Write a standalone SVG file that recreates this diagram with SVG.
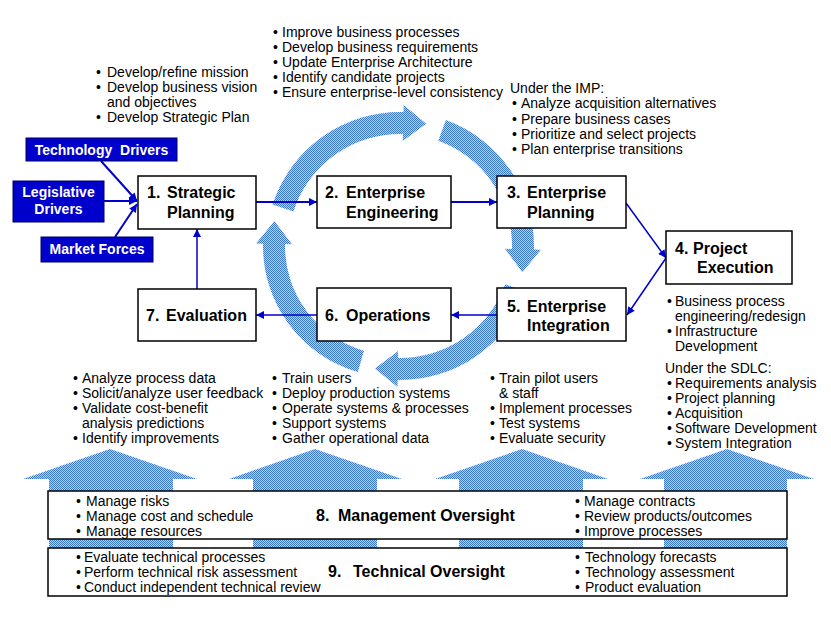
<svg xmlns="http://www.w3.org/2000/svg" width="831" height="618" viewBox="0 0 831 618">
<defs>
<pattern id="dither" width="2" height="2" patternUnits="userSpaceOnUse"><rect width="2" height="2" fill="#b3cfec"/><rect width="1" height="1" fill="#3c7ac4"/><rect x="1" y="1" width="1" height="1" fill="#3c7ac4"/></pattern>
<marker id="ah" viewBox="0 0 10 10" refX="10" refY="5" markerWidth="10" markerHeight="8" markerUnits="userSpaceOnUse" orient="auto"><path d="M0,0 L10,5 L0,10 z" fill="#0000CC"/></marker>
<style>
.box{fill:#fff;stroke:#000;stroke-width:1.5}
.drv{fill:#0000CC;stroke:#000060;stroke-width:1}
.lbl{font-family:"Liberation Sans",Arial,sans-serif;font-weight:bold;font-size:16px;fill:#000}
.dl{font-family:"Liberation Sans",Arial,sans-serif;font-weight:bold;font-size:14px;fill:#fff}
.t{font-family:"Liberation Sans",Arial,sans-serif;font-size:14px;fill:#000}
.ring{fill:url(#dither)}
.con{stroke:#0000CC;stroke-width:2;fill:none;marker-end:url(#ah)}
.con2{stroke:#0000CC;stroke-width:1.5;fill:none;marker-end:url(#ah)}
</style>
</defs>
<rect width="831" height="618" fill="#fff"/>

<g id="cycle-arrows">
<path class="ring" d="M272.55,204.59 A134,134 0 0 1 403.51,112.05 L403.69,105.05 L426.21,123.64 L402.75,141.04 L402.93,134.04 A112,112 0 0 0 293.48,211.39 Z"/>
<path class="ring" d="M445.83,120.08 A134,134 0 0 1 533.95,249.51 L540.95,249.69 L522.36,272.21 L504.96,248.75 L511.96,248.93 A112,112 0 0 0 438.30,140.75 Z"/>
<path class="ring" d="M525.92,291.83 A134,134 0 0 1 397.66,379.98 L397.54,386.98 L374.85,368.58 L398.17,350.98 L398.05,357.98 A112,112 0 0 0 505.25,284.30 Z"/>
<path class="ring" d="M357.89,371.93 A131,131 0 0 1 263.02,243.71 L256.02,243.59 L274.42,220.91 L292.02,244.22 L285.02,244.10 A109,109 0 0 0 363.96,350.78 Z"/>
</g>

<g id="oversight-arrows">
<path class="ring" d="M49,570 V479 H23 L110,449 L197,479 H173 V570 Z"/>
<path class="ring" d="M253,570 V479 H229 L315,449 L402,479 H377 V570 Z"/>
<path class="ring" d="M459,570 V479 H435 L522,449 L608,479 H583 V570 Z"/>
<path class="ring" d="M664,570 V479 H640 L727,449 L814,479 H787 V570 Z"/>
</g>

<g id="connectors">
<line class="con" x1="101" y1="161" x2="137" y2="201"/>
<line class="con" x1="104" y1="201" x2="137" y2="201"/>
<line class="con" x1="115" y1="237" x2="137" y2="204"/>
<line class="con" x1="256" y1="202" x2="317" y2="202"/>
<line class="con" x1="451" y1="202" x2="497" y2="202"/>
<line class="con2" x1="626" y1="203" x2="666" y2="258"/>
<line class="con2" x1="666" y1="258" x2="627" y2="315"/>
<line class="con2" x1="497" y1="315" x2="451" y2="315"/>
<line class="con2" x1="317" y1="315" x2="256" y2="315"/>
<line class="con2" x1="197" y1="289" x2="197" y2="229"/>
</g>

<g id="tech-drivers">
<rect class="drv" x="26" y="138" width="151" height="23"/>
<text class="dl" x="101.5" y="155" text-anchor="middle" xml:space="preserve">Technology  Drivers</text>
</g>
<g id="legislative-drivers">
<rect class="drv" x="13" y="181" width="91" height="41"/>
<text class="dl" x="58.5" y="197" text-anchor="middle">Legislative</text>
<text class="dl" x="58.5" y="214" text-anchor="middle">Drivers</text>
</g>
<g id="market-forces">
<rect class="drv" x="41" y="237" width="112" height="25"/>
<text class="dl" x="97" y="254" text-anchor="middle">Market Forces</text>
</g>

<g id="box1">
<rect class="box" x="138" y="176" width="118" height="53"/>
<text class="lbl" y="198"><tspan x="147">1.</tspan><tspan x="167">Strategic</tspan></text>
<text class="lbl" x="167" y="218">Planning</text>
</g>
<g id="box2">
<rect class="box" x="317" y="176" width="134" height="52"/>
<text class="lbl" y="198"><tspan x="325">2.</tspan><tspan x="346">Enterprise</tspan></text>
<text class="lbl" x="346" y="218">Engineering</text>
</g>
<g id="box3">
<rect class="box" x="497" y="176" width="129" height="52"/>
<text class="lbl" y="198"><tspan x="507">3.</tspan><tspan x="527">Enterprise</tspan></text>
<text class="lbl" x="527" y="218">Planning</text>
</g>
<g id="box4">
<rect class="box" x="666" y="231" width="126" height="53"/>
<text class="lbl" y="254"><tspan x="675">4.</tspan><tspan x="693">Project</tspan></text>
<text class="lbl" x="697" y="273">Execution</text>
</g>
<g id="box5">
<rect class="box" x="497" y="288" width="129" height="53"/>
<text class="lbl" y="312"><tspan x="507">5.</tspan><tspan x="527">Enterprise</tspan></text>
<text class="lbl" x="527" y="331">Integration</text>
</g>
<g id="box6">
<rect class="box" x="317" y="288" width="134" height="53"/>
<text class="lbl" y="321"><tspan x="325">6.</tspan><tspan x="346">Operations</tspan></text>
</g>
<g id="box7">
<rect class="box" x="138" y="289" width="118" height="52"/>
<text class="lbl" y="321"><tspan x="146">7.</tspan><tspan x="166">Evaluation</tspan></text>
</g>

<g id="notes-strategic" class="t">
<text y="77"><tspan x="96">•</tspan><tspan x="107">Develop/refine mission</tspan></text>
<text y="92"><tspan x="96">•</tspan><tspan x="107">Develop business vision</tspan></text>
<text x="107" y="107">and objectives</text>
<text y="122"><tspan x="96">•</tspan><tspan x="107">Develop Strategic Plan</tspan></text>
</g>
<g id="notes-engineering" class="t">
<text y="36.5"><tspan x="273">•</tspan><tspan x="282">Improve business processes</tspan></text>
<text y="51.5"><tspan x="273">•</tspan><tspan x="282">Develop business requirements</tspan></text>
<text y="66.5"><tspan x="273">•</tspan><tspan x="282">Update Enterprise Architecture</tspan></text>
<text y="81.5"><tspan x="273">•</tspan><tspan x="282">Identify candidate projects</tspan></text>
<text y="96.5"><tspan x="273">•</tspan><tspan x="282">Ensure enterprise-level consistency</tspan></text>
</g>
<g id="notes-planning" class="t">
<text x="510" y="92.5">Under the IMP:</text>
<text y="108"><tspan x="512">•</tspan><tspan x="521">Analyze acquisition alternatives</tspan></text>
<text y="123.5"><tspan x="512">•</tspan><tspan x="521">Prepare business cases</tspan></text>
<text y="138.5"><tspan x="512">•</tspan><tspan x="521">Prioritize and select projects</tspan></text>
<text y="154"><tspan x="512">•</tspan><tspan x="521">Plan enterprise transitions</tspan></text>
</g>
<g id="notes-execution" class="t">
<text y="305.5"><tspan x="667">•</tspan><tspan x="675">Business process</tspan></text>
<text x="675" y="320.5">engineering/redesign</text>
<text y="335.5"><tspan x="667">•</tspan><tspan x="675">Infrastructure</tspan></text>
<text x="675" y="350.5">Development</text>
<text x="665" y="372.5">Under the SDLC:</text>
<text y="387.5"><tspan x="667">•</tspan><tspan x="675">Requirements analysis</tspan></text>
<text y="402.5"><tspan x="667">•</tspan><tspan x="675">Project planning</tspan></text>
<text y="417.5"><tspan x="667">•</tspan><tspan x="675">Acquisition</tspan></text>
<text y="432.5"><tspan x="667">•</tspan><tspan x="675">Software Development</tspan></text>
<text y="447.5"><tspan x="667">•</tspan><tspan x="675">System Integration</tspan></text>
</g>
<g id="notes-integration" class="t">
<text y="382.5"><tspan x="490">•</tspan><tspan x="499">Train pilot users</tspan></text>
<text x="499" y="397.5">&amp; staff</text>
<text y="412.5"><tspan x="490">•</tspan><tspan x="499">Implement processes</tspan></text>
<text y="427.5"><tspan x="490">•</tspan><tspan x="499">Test systems</tspan></text>
<text y="442.5"><tspan x="490">•</tspan><tspan x="499">Evaluate security</tspan></text>
</g>
<g id="notes-operations" class="t">
<text y="382.5"><tspan x="272">•</tspan><tspan x="282">Train users</tspan></text>
<text y="397.5"><tspan x="272">•</tspan><tspan x="282">Deploy production systems</tspan></text>
<text y="412.5"><tspan x="272">•</tspan><tspan x="282">Operate systems &amp; processes</tspan></text>
<text y="427.5"><tspan x="272">•</tspan><tspan x="282">Support systems</tspan></text>
<text y="442.5"><tspan x="272">•</tspan><tspan x="282">Gather operational data</tspan></text>
</g>
<g id="notes-evaluation" class="t">
<text y="382.5"><tspan x="73">•</tspan><tspan x="82">Analyze process data</tspan></text>
<text y="397.5"><tspan x="73">•</tspan><tspan x="82">Solicit/analyze user feedback</tspan></text>
<text y="412.5"><tspan x="73">•</tspan><tspan x="82">Validate cost-benefit</tspan></text>
<text x="82" y="427.5">analysis predictions</text>
<text y="442.5"><tspan x="73">•</tspan><tspan x="82">Identify improvements</tspan></text>
</g>

<g id="box8">
<rect class="box" x="48" y="491" width="739" height="48"/>
<text class="lbl" y="521"><tspan x="316">8.</tspan><tspan x="338">Management Oversight</tspan></text>
<g class="t">
<text y="505.5"><tspan x="76">•</tspan><tspan x="86">Manage risks</tspan></text>
<text y="521"><tspan x="76">•</tspan><tspan x="86">Manage cost and schedule</tspan></text>
<text y="536"><tspan x="76">•</tspan><tspan x="86">Manage resources</tspan></text>
<text y="505.5"><tspan x="575">•</tspan><tspan x="584">Manage contracts</tspan></text>
<text y="521"><tspan x="575">•</tspan><tspan x="584">Review products/outcomes</tspan></text>
<text y="536"><tspan x="575">•</tspan><tspan x="584">Improve processes</tspan></text>
</g>
</g>
<g id="box9">
<rect class="box" x="48" y="548" width="739" height="48"/>
<text class="lbl" y="577"><tspan x="328">9.</tspan><tspan x="353">Technical Oversight</tspan></text>
<g class="t">
<text y="561.5"><tspan x="76">•</tspan><tspan x="84">Evaluate technical processes</tspan></text>
<text y="577"><tspan x="76">•</tspan><tspan x="84">Perform technical risk assessment</tspan></text>
<text y="592"><tspan x="76">•</tspan><tspan x="84">Conduct independent technical review</tspan></text>
<text y="561.5"><tspan x="575">•</tspan><tspan x="585">Technology forecasts</tspan></text>
<text y="577"><tspan x="575">•</tspan><tspan x="585">Technology assessment</tspan></text>
<text y="592"><tspan x="575">•</tspan><tspan x="585">Product evaluation</tspan></text>
</g>
</g>
</svg>
